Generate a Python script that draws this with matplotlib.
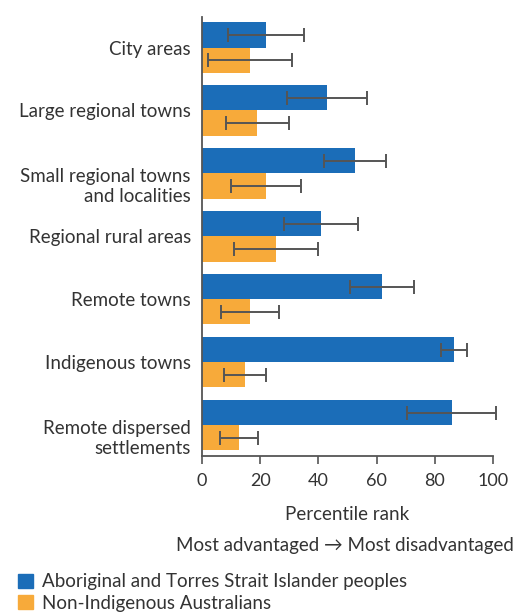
import matplotlib
matplotlib.use("Agg")
import matplotlib.pyplot as plt
import matplotlib.transforms as mtrans
import numpy as np
from matplotlib.patches import Patch

plt.rcParams['font.family'] = ['Lato', 'DejaVu Sans']

categories = ["City areas", "Large regional towns", "Small regional towns\nand localities",
              "Regional rural areas", "Remote towns", "Indigenous towns",
              "Remote dispersed\nsettlements"]
indigenous = [22, 43, 52.5, 41, 62, 86.6, 85.8]
indigenous_err = [13.2, 13.8, 10.6, 12.7, 11, 4.4, 15.2]
non_indigenous = [16.4, 19, 22, 25.4, 16.6, 14.9, 12.7]
non_indigenous_err = [14.5, 10.8, 12.1, 14.3, 10, 7.2, 6.5]
series_labels = ["Aboriginal and Torres Strait Islander peoples", "Non-Indigenous Australians"]

blue = "#1b6db8"
orange = "#f7aa3a"
txt = "#333333"
errc = "#555555"
fs = 13.5

fig = plt.figure(figsize=(5.26, 6.12), dpi=100)
ax = fig.add_axes([202/526, 1-456/612, 291/526, (456-16.7)/612])

y = np.arange(len(categories))
h = 0.40
ekw = dict(ecolor=errc, elinewidth=1.4, capsize=5, capthick=1.4)
b1 = ax.barh(y - h/2, indigenous, height=h, color=blue, xerr=indigenous_err, error_kw=ekw)
b2 = ax.barh(y + h/2, non_indigenous, height=h, color=orange, xerr=non_indigenous_err, error_kw=ekw)
for b in (b1, b2):
    eb = b.errorbar
    for ln in eb.lines[1]:
        ln.set_clip_on(False)
    for lc in eb.lines[2]:
        lc.set_clip_on(False)

ax.set_xlim(0, 100)
ax.set_ylim(6.49, -0.49)
ax.set_yticks(y)
ax.set_yticklabels(categories, fontsize=fs, color=txt, linespacing=1.25)
ax.tick_params(axis='y', length=0, pad=8)
for lbl in ax.get_yticklabels():
    if '\n' in lbl.get_text():
        lbl.set_transform(lbl.get_transform() +
                          mtrans.ScaledTranslation(0, -10/100, fig.dpi_scale_trans))
ax.set_xticks([0, 20, 40, 60, 80, 100])
ax.tick_params(axis='x', length=6, width=1.2, color="#555555", labelsize=13, labelcolor=txt, pad=6)
for s in ['top', 'right']:
    ax.spines[s].set_visible(False)
for s in ['left', 'bottom']:
    ax.spines[s].set_color("#555555")
    ax.spines[s].set_linewidth(1.3)

fig.text(347/526, 1-515/612, "Percentile rank", ha='center', va='center', fontsize=fs, color=txt)
fig.text(345/526, 1-545/612, "Most advantaged \u2192 Most disadvantaged", ha='center', va='center',
         fontsize=fs, color=txt)

handles = [Patch(color=blue), Patch(color=orange)]
fig.legend(handles, series_labels, loc='center left', bbox_to_anchor=(18/526, 1-592.5/612),
           frameon=False, fontsize=fs, handlelength=0.8, handleheight=0.8,
           handletextpad=0.5, labelspacing=0.23, labelcolor=txt,
           borderaxespad=0, borderpad=0)

fig.savefig("out.png", dpi=100, facecolor="white")
